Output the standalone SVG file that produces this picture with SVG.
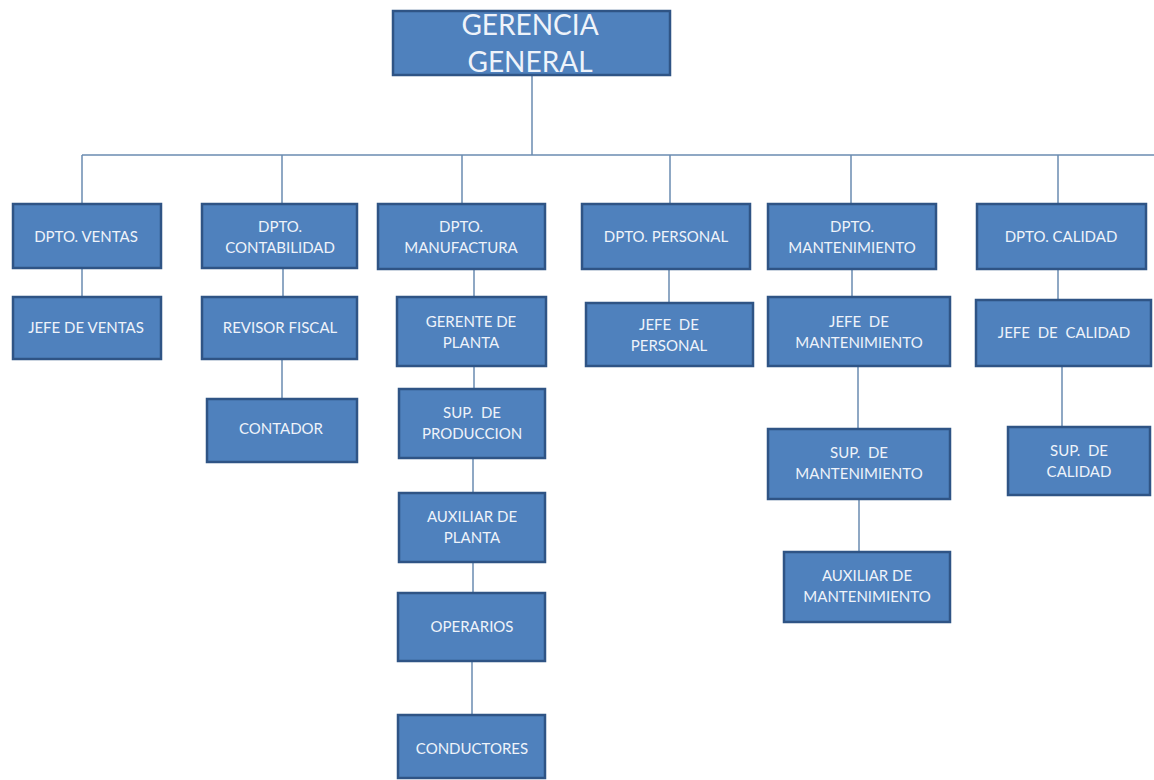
<svg xmlns="http://www.w3.org/2000/svg" width="1154" height="780" viewBox="0 0 1154 780">
  <style>
    .box { fill: #4f81bd; stroke: #2f5485; stroke-width: 2.5; }
    .lbl { fill: #eef3fa; font-family: Lato, "Open Sans", sans-serif; font-size: 15px; text-anchor: middle; white-space: pre; }
    .title { fill: #eef3fa; font-family: Lato, "Open Sans", sans-serif; font-size: 28px; text-anchor: middle; }
    .wire { stroke: #6a8bb0; stroke-width: 1.5; fill: none; }
  </style>
  <rect width="1154" height="780" fill="#ffffff"/>

  <!-- connectors -->
  <g id="connectors" class="wire">
    <line x1="532" y1="75" x2="532" y2="155"/>
    <line x1="82" y1="155" x2="1154" y2="155"/>
    <line x1="82" y1="155" x2="82" y2="204"/>
    <line x1="282" y1="155" x2="282" y2="204"/>
    <line x1="462" y1="155" x2="462" y2="204"/>
    <line x1="670" y1="155" x2="670" y2="204"/>
    <line x1="851" y1="155" x2="851" y2="204"/>
    <line x1="1058" y1="155" x2="1058" y2="204"/>
    <line x1="82" y1="268" x2="82" y2="297"/>
    <line x1="283" y1="268" x2="283" y2="297"/>
    <line x1="282" y1="359" x2="282" y2="399"/>
    <line x1="474" y1="269" x2="474" y2="297"/>
    <line x1="474" y1="366" x2="474" y2="389"/>
    <line x1="473" y1="458" x2="473" y2="493"/>
    <line x1="473" y1="562" x2="473" y2="593"/>
    <line x1="472" y1="661" x2="472" y2="715"/>
    <line x1="669" y1="269" x2="669" y2="303"/>
    <line x1="852" y1="269" x2="852" y2="297"/>
    <line x1="858" y1="366" x2="858" y2="429"/>
    <line x1="859" y1="499" x2="859" y2="552"/>
    <line x1="1058" y1="269" x2="1058" y2="300"/>
    <line x1="1062" y1="366" x2="1062" y2="427"/>
  </g>

  <!-- top -->
  <g id="gerencia-general">
    <rect class="box" x="393" y="11" width="277" height="64"/>
    <text class="title" x="530" y="35">GERENCIA</text>
    <text class="title" x="530" y="72">GENERAL</text>
  </g>

  <!-- departments -->
  <g id="dpto-ventas">
    <rect class="box" x="13" y="204" width="148" height="64"/>
    <text class="lbl" x="86" y="242">DPTO. VENTAS</text>
  </g>
  <g id="dpto-contabilidad">
    <rect class="box" x="202" y="204" width="155" height="64"/>
    <text class="lbl" x="280" y="232">DPTO.</text>
    <text class="lbl" x="280" y="253">CONTABILIDAD</text>
  </g>
  <g id="dpto-manufactura">
    <rect class="box" x="378" y="204" width="167" height="65"/>
    <text class="lbl" x="461" y="232">DPTO.</text>
    <text class="lbl" x="461" y="253">MANUFACTURA</text>
  </g>
  <g id="dpto-personal">
    <rect class="box" x="582" y="204" width="168" height="65"/>
    <text class="lbl" x="666" y="242">DPTO. PERSONAL</text>
  </g>
  <g id="dpto-mantenimiento">
    <rect class="box" x="768" y="204" width="168" height="65"/>
    <text class="lbl" x="852" y="232">DPTO.</text>
    <text class="lbl" x="852" y="253">MANTENIMIENTO</text>
  </g>
  <g id="dpto-calidad">
    <rect class="box" x="977" y="204" width="169" height="65"/>
    <text class="lbl" x="1061" y="242">DPTO. CALIDAD</text>
  </g>

  <!-- second level -->
  <g id="jefe-ventas">
    <rect class="box" x="13" y="297" width="148" height="62"/>
    <text class="lbl" x="86" y="333">JEFE DE VENTAS</text>
  </g>
  <g id="revisor-fiscal">
    <rect class="box" x="202" y="297" width="155" height="62"/>
    <text class="lbl" x="280" y="333">REVISOR FISCAL</text>
  </g>
  <g id="gerente-planta">
    <rect class="box" x="397" y="297" width="149" height="69"/>
    <text class="lbl" x="471" y="327">GERENTE DE</text>
    <text class="lbl" x="471" y="348">PLANTA</text>
  </g>
  <g id="jefe-personal">
    <rect class="box" x="586" y="303" width="167" height="63"/>
    <text class="lbl" x="669" y="330">JEFE  DE</text>
    <text class="lbl" x="669" y="351">PERSONAL</text>
  </g>
  <g id="jefe-mantenimiento">
    <rect class="box" x="768" y="297" width="182" height="69"/>
    <text class="lbl" x="859" y="327">JEFE  DE</text>
    <text class="lbl" x="859" y="348">MANTENIMIENTO</text>
  </g>
  <g id="jefe-calidad">
    <rect class="box" x="976" y="300" width="175" height="66"/>
    <text class="lbl" x="1064" y="338">JEFE  DE  CALIDAD</text>
  </g>

  <!-- third level and below -->
  <g id="contador">
    <rect class="box" x="207" y="399" width="150" height="63"/>
    <text class="lbl" x="281" y="434">CONTADOR</text>
  </g>
  <g id="sup-produccion">
    <rect class="box" x="399" y="389" width="146" height="69"/>
    <text class="lbl" x="472" y="418">SUP.  DE</text>
    <text class="lbl" x="472" y="439">PRODUCCION</text>
  </g>
  <g id="auxiliar-planta">
    <rect class="box" x="399" y="493" width="146" height="69"/>
    <text class="lbl" x="472" y="522">AUXILIAR DE</text>
    <text class="lbl" x="472" y="543">PLANTA</text>
  </g>
  <g id="operarios">
    <rect class="box" x="398" y="593" width="147" height="68"/>
    <text class="lbl" x="472" y="632">OPERARIOS</text>
  </g>
  <g id="conductores">
    <rect class="box" x="398" y="715" width="147" height="63"/>
    <text class="lbl" x="472" y="754">CONDUCTORES</text>
  </g>
  <g id="sup-mantenimiento">
    <rect class="box" x="768" y="429" width="182" height="70"/>
    <text class="lbl" x="859" y="458">SUP.  DE</text>
    <text class="lbl" x="859" y="479">MANTENIMIENTO</text>
  </g>
  <g id="auxiliar-mantenimiento">
    <rect class="box" x="784" y="552" width="166" height="70"/>
    <text class="lbl" x="867" y="581">AUXILIAR DE</text>
    <text class="lbl" x="867" y="602">MANTENIMIENTO</text>
  </g>
  <g id="sup-calidad">
    <rect class="box" x="1008" y="427" width="142" height="68"/>
    <text class="lbl" x="1079" y="456">SUP.  DE</text>
    <text class="lbl" x="1079" y="477">CALIDAD</text>
  </g>
</svg>
